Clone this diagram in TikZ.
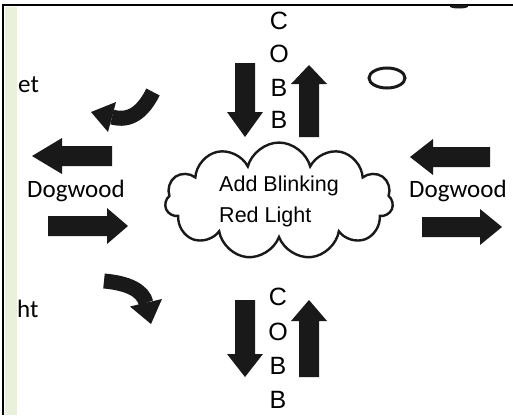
\documentclass[tikz,border=0pt]{standalone}
\usepackage{fontspec}
\setmainfont{Carlito}
\newfontfamily\arialfont{Liberation Sans}
\usetikzlibrary{shapes.symbols}
\definecolor{stripgreen}{RGB}{233,241,220}
\definecolor{ink}{RGB}{25,25,25}
\tikzset{
  blk/.style={fill=ink},
  streetlbl/.style={font=\fontsize{25}{28}\selectfont, inner sep=0pt},
  letterlbl/.style={font=\arialfont\fontsize{25}{28}\selectfont, inner sep=0pt},
  bendarrow/.style={draw=ink, line width=15pt, line cap=butt}
}
\begin{document}
\begin{tikzpicture}[x=1pt, y=-1pt]
  \useasboundingbox (0,0) rectangle (513,415);
  % frame and green strip
  \fill[stripgreen] (4.5,7) rectangle (17,415);
  \draw[line width=2.5pt] (3,415) -- (3,5) -- (513,5);
  \fill[ink] (459,6.5) ellipse [x radius=9, y radius=2];

  % straight block arrows, horizontal: tip/head back/tail end/centre y
  \foreach \tx/\hb/\te/\cy in {32/62/112/156, 410/433/490/157, 128/107/48/226, 502/480/422/227}
    \fill[blk] (\tx,\cy) -- (\hb,\cy-18) -- (\hb,\cy-10) -- (\te,\cy-10)
      -- (\te,\cy+10) -- (\hb,\cy+10) -- (\hb,\cy+18) -- cycle;
  % vertical: tip/head back/tail end/centre x
  \foreach \ty/\hb/\te/\cx in {137/112/63/245, 65/84/137/309, 377/354/300/245, 300/321/377/309}
    \fill[blk] (\cx,\ty) -- (\cx-18,\hb) -- (\cx-10,\hb) -- (\cx-10,\te)
      -- (\cx+10,\te) -- (\cx+10,\hb) -- (\cx+18,\hb) -- cycle;

  % bent arrows
  \draw[bendarrow] (153,92) .. controls (143,112) and (130,122) .. (112,117);
  \fill[blk] (91,112) -- (116,102) -- (108,132) -- cycle;
  \draw[bendarrow] (104,281) .. controls (127,283) and (143,290) .. (146,303);
  \fill[blk] (151,324) -- (162,299) -- (130,306.5) -- cycle;

  % cloud
  \node[cloud, cloud puffs=11, cloud ignores aspect, draw=ink, line width=2.4pt,
        minimum width=228pt, minimum height=110pt, align=left,
        font=\arialfont\fontsize{21.5}{31}\selectfont] (light) at (279,201)
        {Add Blinking\\Red Light};
  \draw[ink, line width=3pt] (387,78) ellipse [x radius=18, y radius=10];

  % street names
  \node[streetlbl, anchor=base west] (streetA) at (18,92) {et};
  \node[streetlbl, anchor=base west] (streetB) at (17,317) {ht};
  \node[streetlbl, anchor=base west] (dogL) at (27,197) {Dogwood};
  \node[streetlbl, anchor=base west] (dogR) at (409,197) {Dogwood};

  % COBB
  \foreach \l/\y [count=\i] in {C/21,O/54,B/88,B/120}
    \node[letterlbl] (cobbT\i) at (279,\y) {\l};
  \foreach \l/\y [count=\i] in {C/297,O/332,B/366,B/400}
    \node[letterlbl] (cobbB\i) at (278,\y) {\l};
\end{tikzpicture}
\end{document}
